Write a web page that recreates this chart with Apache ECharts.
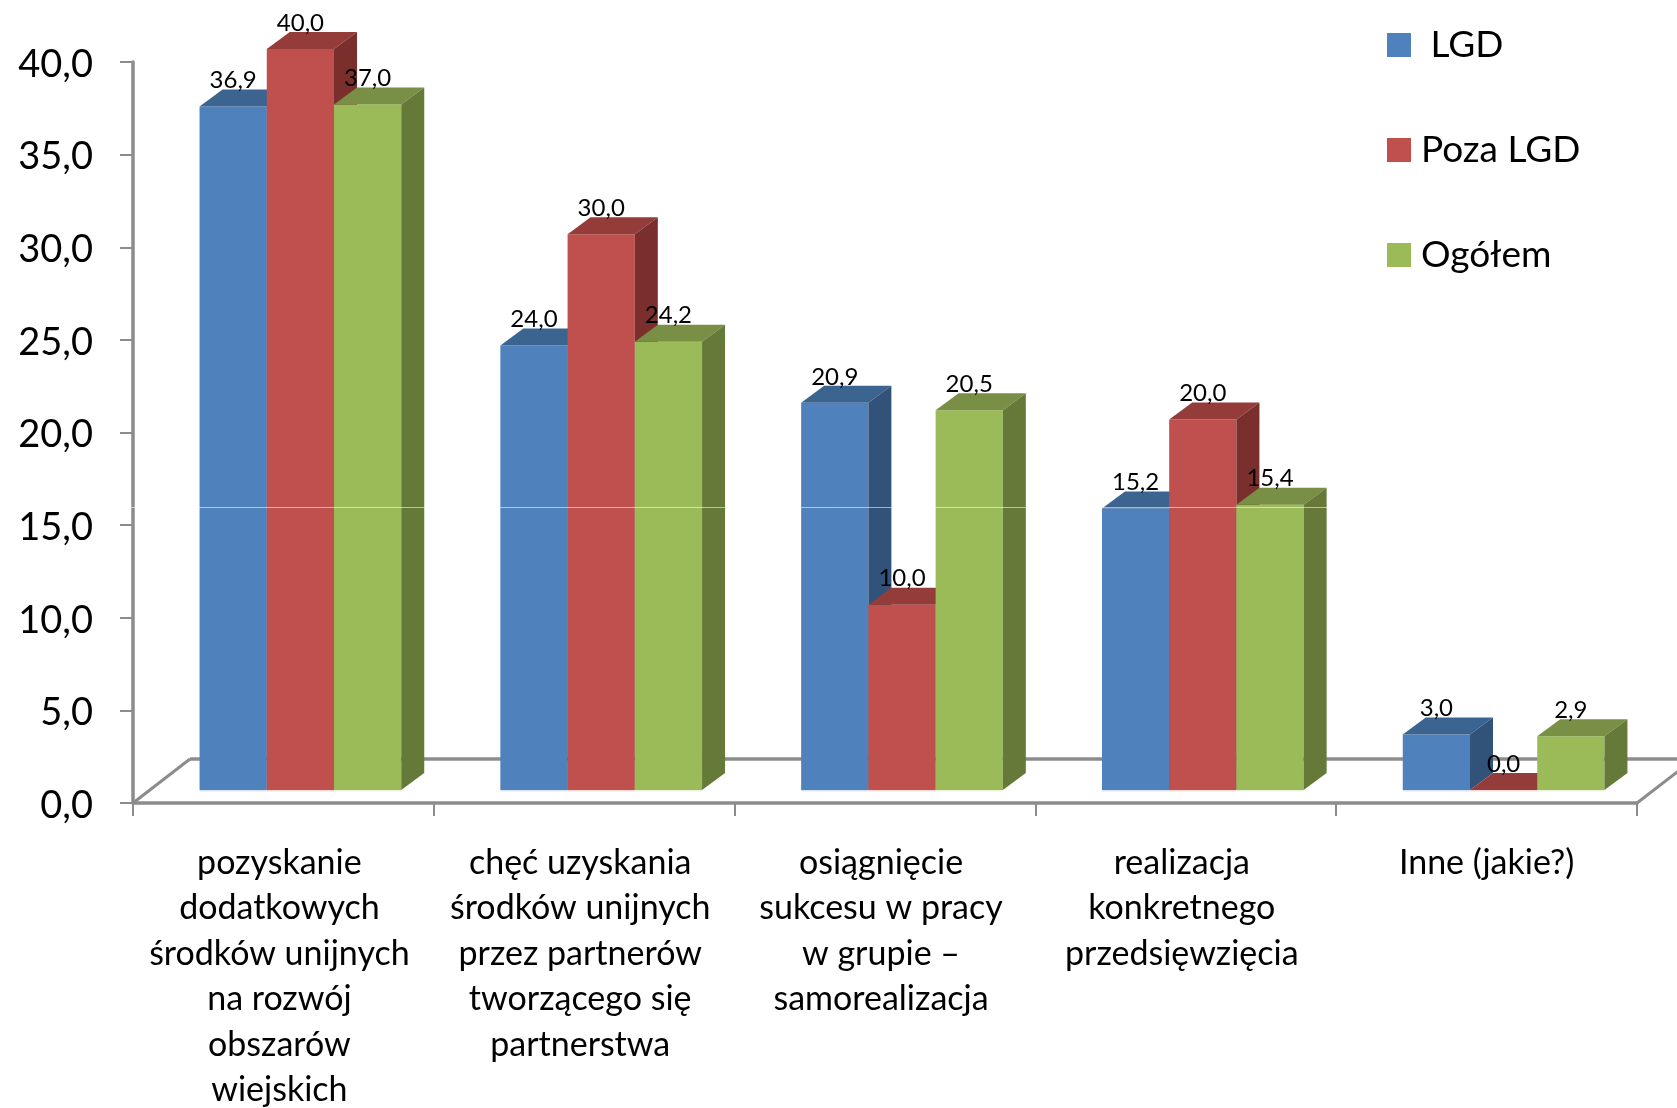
<!DOCTYPE html>
<html><head><meta charset="utf-8">
<style>html,body{margin:0;padding:0;background:#fff}#c{width:1677px;height:1108px}</style>
<script src="https://cdn.jsdelivr.net/npm/echarts@6/dist/echarts.min.js"></script>
</head><body><div id="c"></div>
<script>
const categories = [
  "pozyskanie\ndodatkowych\nśrodków unijnych\nna rozwój\nobszarów\nwiejskich",
  "chęć uzyskania\nśrodków unijnych\nprzez partnerów\ntworzącego się\npartnerstwa",
  "osiągnięcie\nsukcesu w pracy\nw grupie –\nsamorealizacja",
  "realizacja\nkonkretnego\nprzedsięwzięcia",
  "Inne (jakie?)"
];
const lgd = [36.9, 24.0, 20.9, 15.2, 3.0];
const pozaLgd = [40.0, 30.0, 10.0, 20.0, 0.0];
const ogolem = [37.0, 24.2, 20.5, 15.4, 2.9];
const seriesNames = [" LGD", "Poza LGD", "Ogółem"];
const faces = [
  {front:"#4f81bd", top:"#3c6490", side:"#315279", foot:"#dce6f2"},
  {front:"#c0504d", top:"#943c39", side:"#7b2f2d", foot:"#f2dcdb"},
  {front:"#9bbb59", top:"#788f45", side:"#657a39", foot:"#ebf1de"}
];
const FONT = "Lato, Carlito, sans-serif";
const GREY = "#8c8c8c";
const fmt = v => v.toFixed(1).replace(".", ",");

function barSeries(name, values, idx){
  const c = faces[idx];
  return {
    name, type:"custom", z:3, itemStyle:{color:c.front},
    data: values.map((v,i)=>[i,v]),
    encode:{x:0,y:1},
    clip:false,
    renderItem(params, api){
      const i = api.value(0), v = api.value(1);
      const band = api.size([1,0])[0];
      const w = band*0.2235, offX = 17, offY = -13, dx = 23, dy = -17;
      const p = api.coord([i,v]), p0 = api.coord([i,0]);
      const x0 = p[0]+offX+(idx-1.5)*w, x1 = x0+w;
      const yT = p[1]+offY, yB = p0[1]+offY;
      const poly = (pts,fill)=>({type:"polygon",shape:{points:pts},style:{fill}});
      const kids = [];
      if (v>0) kids.push({type:"rect",shape:{x:x0,y:yT,width:w,height:yB-yT},style:{fill:c.front}});
      kids.push({type:"rect",shape:{x:x0,y:yB,width:w,height:1.5},style:{fill:c.foot}});
      kids.push(poly([[x0,yT],[x1,yT],[x1+dx,yT+dy],[x0+dx,yT+dy]],c.top));
      if (v>0) kids.push(poly([[x1,yT],[x1+dx,yT+dy],[x1+dx,yB+dy],[x1,yB]],c.side));
      kids.push({type:"text",z2:10,style:{text:fmt(v),x:(x0+x1)/2,y:yT-26,align:"center",verticalAlign:"middle",
        font:"24px "+FONT,fill:"#000"}});
      return {type:"group",children:kids};
    }
  };
}

const floorSeries = {
  type:"custom", z:1, silent:true, clip:false, data:[[0,0]], encode:{x:0,y:1}, legendHoverLink:false,
  renderItem(params, api){
    const cs = params.coordSys, b = cs.y+cs.height, l = cs.x, r = cs.x+cs.width;
    const line = (x1,y1,x2,y2,lw)=>({type:"line",shape:{x1,y1,x2,y2},style:{stroke:GREY,lineWidth:lw}});
    return {type:"group",children:[
      line(l,b,l+57,b-44,3), line(l+57,b-44,r+57,b-44,3.5), line(r,b,r+57,b-44,3)
    ]};
  }
};

const chart = echarts.init(document.getElementById("c"),null,{renderer:"canvas"});
chart.setOption({
  animation:false,
  backgroundColor:"#fff",
  textStyle:{fontFamily:FONT},
  grid:{left:133,right:40,top:62,bottom:305,containLabel:false,outerBoundsMode:"none"},
  legend:{
    orient:"vertical",left:1387,top:25,padding:0,itemWidth:24,itemHeight:24,itemGap:65,icon:"rect",
    data:seriesNames,
    textStyle:{fontFamily:FONT,fontSize:37,color:"#000",lineHeight:40,padding:[0,0,0,5]},
    selectedMode:false
  },
  xAxis:{
    type:"category",data:categories,boundaryGap:true,
    axisLine:{lineStyle:{color:GREY,width:3.5}},
    axisTick:{show:true,alignWithLabel:false,interval:0,length:13,lineStyle:{color:GREY,width:2}},
    axisLabel:{interval:0,color:"#000",fontSize:34,fontFamily:FONT,lineHeight:45.5,margin:37,padding:[0,8,0,0],align:"center",verticalAlign:"top",
      formatter:(v,i)=> i===categories.length-1 ? "{s|"+v+"}" : v,
      rich:{s:{fontSize:34,fontFamily:FONT,color:"#000",lineHeight:45.5,padding:[0,0,0,8]}}
    }
  },
  yAxis:{
    type:"value",min:0,max:40,interval:5,
    splitLine:{show:false},
    axisLine:{show:true,lineStyle:{color:GREY,width:3.5}},
    axisTick:{show:true,length:13,lineStyle:{color:GREY,width:2}},
    axisLabel:{color:"#000",fontSize:38,fontFamily:FONT,margin:40,formatter:v=>"{t|"+fmt(v)+"}",
      rich:{t:{fontSize:38,fontFamily:FONT,color:"#000",padding:[5,0,0,0]}}}
  },
  series:[floorSeries, barSeries(seriesNames[0],lgd,0), barSeries(seriesNames[1],pozaLgd,1), barSeries(seriesNames[2],ogolem,2)],
  graphic:[{type:"line",z:100,silent:true,shape:{x1:0,y1:507.5,x2:1677,y2:507.5},style:{stroke:"rgba(255,255,255,0.55)",lineWidth:1}}]
});
</script></body></html>
